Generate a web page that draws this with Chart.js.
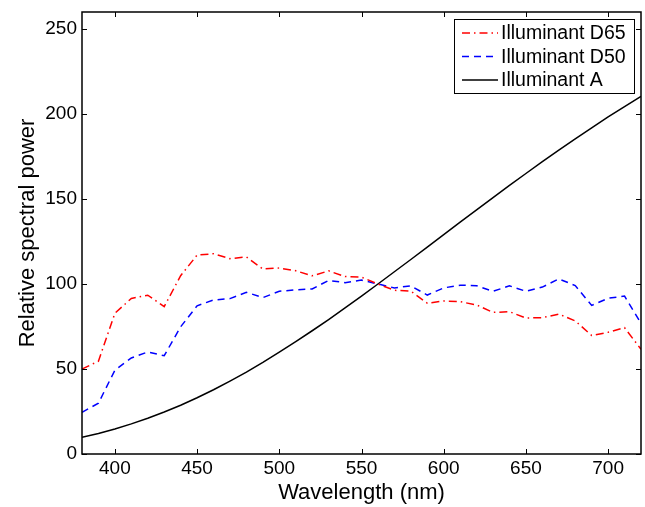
<!DOCTYPE html>
<html>
<head>
<meta charset="utf-8">
<script src="https://cdn.jsdelivr.net/npm/chart.js@4.4.0/dist/chart.umd.min.js"></script>
<style>
  html, body { margin: 0; padding: 0; background: #fff; }
  #wrap { width: 645px; height: 507px; }
</style>
</head>
<body>
<div id="wrap"><canvas id="chart" width="645" height="507"></canvas></div>
<script>
// Longueurs d'onde (nm)
const wavelengths = [380, 390, 400, 410, 420, 430, 440, 450, 460, 470, 480, 490, 500, 510, 520, 530, 540, 550, 560,
    570, 580, 590, 600, 610, 620, 630, 640, 650, 660, 670, 680, 690, 700, 710, 720];

// Illuminant D65
const d65Values = [50.0, 54.6, 82.8, 91.5, 93.4, 86.7, 104.9, 117.0, 117.8, 114.9, 115.9, 108.8, 109.4, 107.8, 104.8, 107.7, 104.4, 104.0, 100.0,
    96.3, 95.8, 88.7, 90.0, 89.6, 87.7, 83.3, 83.7, 80.0, 80.2, 82.3, 78.3, 69.7, 71.6, 74.3, 61.6];

// Illuminant D50
const d50Values = [24.5, 29.9, 49.3, 56.5, 60.0, 57.8, 74.8, 87.2, 90.6, 91.4, 95.1, 92.0, 95.7, 96.6, 97.1, 102.1, 100.8, 102.3, 100.0,
    97.7, 98.9, 93.5, 97.7, 99.3, 99.0, 95.7, 98.9, 95.7, 98.2, 103.0, 99.1, 87.4, 91.6, 92.9, 76.9];

// Illuminant A
const aValues = [9.8, 12.1, 14.7, 17.7, 21.0, 24.7, 28.7, 33.1, 37.8, 42.9, 48.2, 53.9, 59.9, 66.1, 72.5, 79.1, 86.0, 92.9, 100.0,
    107.2, 114.4, 121.7, 129.0, 136.4, 143.6, 150.8, 158.0, 165.0, 172.0, 178.8, 185.4, 191.9, 198.3, 204.4, 210.4];

const seriesLabels = ['Illuminant D65', 'Illuminant D50', 'Illuminant A'];
const xTicks = [400, 450, 500, 550, 600, 650, 700];
const yTicks = [0, 50, 100, 150, 200, 250];

const FONT = '"Liberation Sans", Arial, Helvetica, sans-serif';

function toPoints(values) {
    return wavelengths.map((w, i) => ({ x: w, y: values[i] }));
}

// Cadre + graduations vers l'intérieur (style MATLAB)
const boxPlugin = {
    id: 'boxPlugin',
    afterDatasetsDraw(chart) {
        const ctx = chart.ctx;
        const a = chart.chartArea;
        const xs = chart.scales.x;
        const ys = chart.scales.y;
        const len = 5;
        ctx.save();
        ctx.strokeStyle = '#000';
        ctx.lineWidth = 1;
        ctx.setLineDash([]);
        ctx.beginPath();
        xTicks.forEach(v => {
            const px = Math.round(xs.getPixelForValue(v)) + 0.5;
            ctx.moveTo(px, a.bottom);
            ctx.lineTo(px, a.bottom - len);
            ctx.moveTo(px, a.top);
            ctx.lineTo(px, a.top + len);
        });
        yTicks.forEach(v => {
            const py = Math.round(ys.getPixelForValue(v)) + 0.5;
            ctx.moveTo(a.left, py);
            ctx.lineTo(a.left + len, py);
            ctx.moveTo(a.right, py);
            ctx.lineTo(a.right - len, py);
        });
        ctx.stroke();
        ctx.lineWidth = 1.5;
        ctx.strokeRect(a.left, a.top, a.right - a.left, a.bottom - a.top);
        ctx.restore();
    }
};

// Légende encadrée dans la zone du graphique
const legendPlugin = {
    id: 'boxLegend',
    afterDraw(chart) {
        const ctx = chart.ctx;
        const a = chart.chartArea;
        const w = 180, h = 74;
        const x0 = a.right - 7 - w;
        const y0 = a.top + 7;
        ctx.save();
        ctx.fillStyle = '#fff';
        ctx.fillRect(x0, y0, w, h);
        ctx.strokeStyle = '#000';
        ctx.lineWidth = 1;
        ctx.setLineDash([]);
        ctx.strokeRect(x0 + 0.5, y0 + 0.5, w, h);
        ctx.font = '19.5px ' + FONT;
        ctx.textBaseline = 'middle';
        chart.data.datasets.forEach((ds, i) => {
            const cy = y0 + 14 + i * 23.5;
            ctx.strokeStyle = ds.borderColor;
            ctx.lineWidth = ds.borderWidth;
            ctx.setLineDash(ds.borderDash || []);
            ctx.beginPath();
            ctx.moveTo(x0 + 8, cy);
            ctx.lineTo(x0 + 44, cy);
            ctx.stroke();
            ctx.fillStyle = '#000';
            ctx.fillText(ds.label, x0 + 47, cy + 1);
        });
        ctx.restore();
    }
};

new Chart(document.getElementById('chart').getContext('2d'), {
    type: 'line',
    data: {
        datasets: [{
            label: seriesLabels[0],
            data: toPoints(d65Values),
            borderColor: '#ff0000',
            borderWidth: 1.5,
            borderDash: [8, 4, 1.5, 4]
        }, {
            label: seriesLabels[1],
            data: toPoints(d50Values),
            borderColor: '#0000ff',
            borderWidth: 1.5,
            borderDash: [7, 5]
        }, {
            label: seriesLabels[2],
            data: toPoints(aValues),
            borderColor: '#000000',
            borderWidth: 1.5
        }]
    },
    options: {
        responsive: false,
        animation: false,
        layout: { padding: { top: 12, right: 4, left: 0, bottom: 0 } },
        elements: { point: { radius: 0 }, line: { tension: 0 } },
        plugins: { legend: { display: false }, tooltip: { enabled: false } },
        scales: {
            x: {
                type: 'linear',
                min: 380,
                max: 720,
                afterBuildTicks: scale => { scale.ticks = xTicks.map(v => ({ value: v })); },
                afterFit: scale => {
                    scale.height = 53;
                    scale.paddingLeft = 0;
                    scale.paddingRight = 0;
                },
                grid: { display: false, drawTicks: false },
                border: { display: false },
                ticks: { color: '#000', font: { family: FONT, size: 19 }, padding: 3, maxRotation: 0 },
                title: { display: true, text: 'Wavelength (nm)', color: '#000', font: { family: FONT, size: 22 }, padding: { top: 1, bottom: 1 } }
            },
            y: {
                min: 0,
                max: 260,
                afterBuildTicks: scale => { scale.ticks = yTicks.map(v => ({ value: v })); },
                afterFit: scale => {
                    scale.width = 82;
                    scale.paddingTop = 0;
                    scale.paddingBottom = 0;
                },
                grid: { display: false, drawTicks: false },
                border: { display: false },
                ticks: { color: '#000', font: { family: FONT, size: 19 }, padding: 5 },
                title: { display: true, text: 'Relative spectral power', color: '#000', font: { family: FONT, size: 22 }, padding: { top: 15, bottom: 0 } }
            }
        }
    },
    plugins: [boxPlugin, legendPlugin]
});
</script>
</body>
</html>
